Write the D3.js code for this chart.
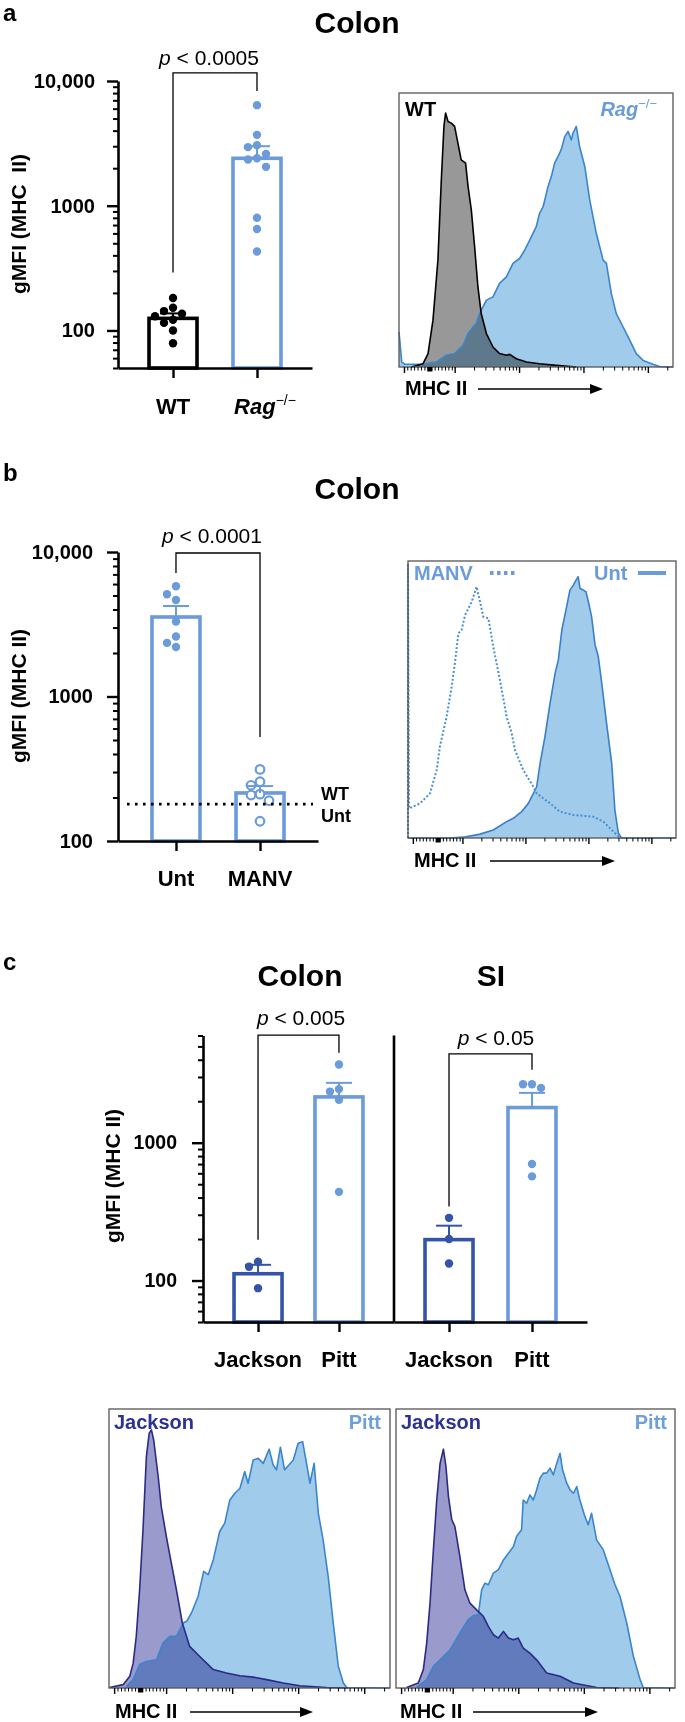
<!DOCTYPE html>
<html><head><meta charset="utf-8">
<script src="https://cdn.jsdelivr.net/npm/d3@7"></script>
<style>
body{margin:0;background:#fff}
svg{display:block}
text{font-family:"Liberation Sans",Arial,Helvetica,sans-serif}
</style>
</head><body><script>
// ---------------- DATA ----------------
const aGroups = ["WT", "Rag"];
const aMeans = [125, 2400];
const aSEM = [12, 600];
const aWT = [182, 152, 143, 136, 130, 122, 115, 100, 79];
const aRag = [6400, 3700, 3050, 2950, 2600, 2400, 2350, 2050, 800, 650, 430];
const aTicks = [100, 1000, 10000];
const aTickText = ["100", "1000", "10,000"];

const bGroups = ["Unt", "MANV"];
const bMeans = [3550, 215];
const bSEM = [680, 25];
const bUnt = [5800, 5100, 4650, 3300, 2600, 2350, 2200];
const bMANV = [313, 257, 243, 211, 208, 190, 137];
const bWTUnt = 180;
const bTicks = [100, 1000, 10000];
const bTickText = ["100", "1000", "10,000"];

const cGroups = ["Jackson", "Pitt"];
const cColonMeans = [112, 2150];
const cColonSEM = [18, 570];
const cColonJackson = [137, 126, 88];
const cColonPitt = [3700, 2450, 2350, 2050, 440];
const cSIMeans = [198, 1800];
const cSISEM = [52, 500];
const cSIJackson = [285, 200, 133];
const cSIPitt = [2660, 2660, 2500, 700, 570];
const cTicks = [100, 1000];
const cTickText = ["100", "1000"];

// histograms: [channel %, count % of max]
const histA_WT = [[4.5,0],[8.8,1.2],[10.6,4.9],[12.4,17.1],[14.2,39],[15.5,69.5],[16.4,87.8],[17.0,92.7],[17.9,89.6],[19.1,89],[20.3,87.8],[21.5,81.7],[22.7,75.6],[24.3,74.4],[25.2,65.9],[26.4,57.3],[27.6,43.9],[28.8,29.3],[30.0,19.5],[31.9,12.2],[34.3,7.3],[36.7,4.9],[39.2,4.3],[40.4,4.6],[42.8,3],[46.5,1.8],[51.3,1.2],[57.4,0.6],[64.7,0]];
const histA_Rag = [[0,12.8],[1.0,1.8],[2.1,1.0],[8.8,1.0],[13.6,1.8],[17.3,4.3],[20.3,4.9],[23.4,7.9],[25.2,12.2],[27.0,14.6],[28.2,15.9],[29.4,19.5],[31.9,24.4],[34.3,25.6],[36.7,30.5],[39.2,32.9],[41.6,37.8],[44.0,39.6],[45.9,42.7],[47.7,46.3],[48.9,48.8],[50.1,51.2],[51.3,56.1],[52.6,58.5],[54.4,65.9],[55.6,69.5],[56.8,74.4],[58.0,76.8],[59.2,79.3],[60.5,84.1],[61.7,86],[62.9,82.9],[63.5,85.4],[64.7,87.8],[65.9,80.5],[67.8,73.2],[69.6,61],[72.0,48.8],[74.5,39],[75.7,37.8],[77.5,26.8],[79.3,19.5],[81.8,14.6],[84.2,9.8],[86.6,4.9],[89.1,2.4],[92.7,1.0],[95.1,0.2],[100,0]];
const histB_MANV = [[0,0],[0,99],[0.4,10.7],[4.5,12.5],[8.2,16.1],[10.7,24.5],[11.9,33],[14.4,43.8],[16.3,54.6],[17.5,63.1],[18.8,73.9],[20.0,75.1],[21.3,80.5],[23.8,85.3],[25.6,90.7],[26.6,86.5],[28.1,79.9],[30.0,79.3],[31.8,69.1],[34.3,57],[36.8,43.8],[38.7,37.8],[39.9,31.8],[43.0,24.5],[46.8,18.5],[48.0,16.1],[53.0,12.5],[56.7,9.5],[61.7,8.3],[69.1,7.7],[72.9,5.9],[75.4,3.5],[79.1,0]];
const histB_Unt = [[0,0],[15.7,0],[20.6,0.3],[26.9,1.4],[31.8,2.9],[36.8,5.9],[39.3,7.1],[42.4,9.5],[44.9,12.5],[46.8,16.1],[48.0,18.5],[49.3,27],[51.1,36.6],[53.0,48.6],[54.9,59.5],[56.1,64.3],[57.4,75.1],[59.2,83.5],[60.4,89.5],[61.7,91.3],[62.7,93.1],[63.5,94.3],[64.2,90.1],[65.4,89.5],[66.4,88.9],[67.3,85.3],[68.5,79.9],[69.8,69.7],[71.0,65.5],[72.3,55.8],[74.1,41.4],[76.0,27],[77.2,10.1],[78.5,1.7],[79.7,0],[100,0]];
const histC_colonJackson = [[0.2,0.2],[5.0,1.2],[7.4,4.2],[8.6,8.9],[9.7,18.5],[10.9,35.2],[12.1,56.7],[13.3,82.9],[14.3,91.3],[15.1,92.5],[15.9,88.9],[17.5,75.8],[18.6,65],[20.4,54.3],[22.2,44.7],[24,35.2],[26.1,23.3],[28.7,14.9],[32.3,11.3],[37.1,6.6],[41.8,5.4],[46.6,4.4],[51.3,3.9],[56.1,3],[62,1.8],[67.9,0.8],[77.4,0.2],[85,0]];
const histC_colonPitt = [[6.2,0.6],[8.6,3],[10.9,8.4],[13.3,9.5],[16.9,10.1],[19.2,16.1],[21.6,18.5],[24,18.5],[26.4,23.3],[27.6,23.9],[29.3,26.8],[31.7,32.8],[33.7,41.8],[35.3,40.6],[37.1,45.9],[39.4,56.1],[41.2,59.1],[43.0,67.4],[44.8,69.8],[46.6,71.6],[48.3,77.6],[49.5,73.4],[51.3,81.7],[53.1,82.3],[54.9,80.5],[57.0,85.6],[58.4,80],[59.6,78.2],[61.0,86.3],[62.5,78.2],[65.6,81.7],[67.3,87.7],[68.9,88.3],[70.1,81.7],[71.5,73.4],[73.0,80.5],[74.5,62.6],[76.2,53.1],[78.0,40],[79.8,23.3],[81.6,7.8],[83.4,1.8],[84.6,0.2],[100,0]];
const histC_SIJackson = [[3.8,0.2],[8.0,1.8],[9.8,6.6],[11.0,16.1],[12.2,30.4],[13.4,49.5],[14.6,67.4],[15.8,80.5],[17.0,85.6],[17.9,79.4],[18.8,68.6],[20.0,60.3],[21.1,57.9],[22.9,47.1],[24.7,35.2],[26.5,30.4],[28.9,28],[31.3,25.7],[33.1,22.1],[34.9,19.1],[36.7,17.9],[38.5,20.3],[40.3,17.9],[42.1,17.3],[43.8,17.9],[45.6,14.3],[48,12.5],[50.4,10.1],[54,5.4],[58.8,4.2],[63.6,1.8],[71.9,0.2],[80,0]];
const histC_SIPitt = [[7.4,0.2],[11,3],[13.4,7.8],[15.8,10.1],[19.4,13.7],[22.9,19.7],[25.9,24.5],[27.7,25.9],[29.5,26.3],[30.7,35.2],[31.9,37.6],[33.1,37],[34.9,41.2],[36.7,42.4],[38.5,45.9],[40.3,48.3],[42.1,50.7],[43.2,54.3],[45,56.7],[45.6,67.4],[46.8,66.2],[48,69.2],[49.2,67.4],[50.4,71],[51.6,75.2],[52.8,77],[54,77],[55.2,78.8],[56.4,76.4],[57.6,80.5],[58.8,84.1],[59.7,78.2],[61.2,73.4],[62.4,71],[63.6,69.8],[64.8,72.2],[65.9,67.4],[67.7,61.5],[68.9,58.5],[70.1,62.6],[71.9,53.1],[74.3,49.5],[76.7,42.4],[78.5,37],[80.3,32.8],[82.7,23.3],[85.1,11.3],[87.5,3],[88.6,0.2],[100,0]];

// ---------------- STYLE ----------------
const BLUE = '#6b9bd8', JACK = '#3553a8', HBLUE = '#a0cbeb', HBLUE_S = '#3a86cc';
const svg = d3.select('body').append('svg').attr('width', 685).attr('height', 1722);
svg.append('rect').attr('width', 685).attr('height', 1722).attr('fill', '#fff');

function txt(x, y, s, o = {}) {
  return svg.append('text').attr('x', x).attr('y', y).text(s)
    .attr('font-size', o.fs || 20).attr('font-weight', o.fw || 'bold')
    .attr('font-style', o.it ? 'italic' : 'normal')
    .attr('fill', o.fill || '#000').attr('text-anchor', o.anchor || 'start');
}

function yAxis(x0, y, ticks, tickText, fs, pad) {
  const [lo, hi] = y.domain();
  const minors = [];
  for (let e = 0; e <= 4; e++) for (let k = 2; k <= 9; k++) {
    const v = k * Math.pow(10, e);
    if (v >= lo * 0.999 && v <= hi * 1.001) minors.push(v);
  }
  const gm = svg.append('g').attr('transform', `translate(${x0},0)`)
    .call(d3.axisLeft(y).tickValues(minors).tickSize(5).tickSizeOuter(0).tickFormat(''));
  gm.select('.domain').remove();
  gm.selectAll('line').attr('stroke', '#000').attr('stroke-width', 2);
  const g = svg.append('g').attr('transform', `translate(${x0},0)`)
    .call(d3.axisLeft(y).tickValues(ticks).tickSize(11).tickSizeOuter(0).tickPadding(pad)
      .tickFormat((d, i) => tickText[i]));
  g.attr('font-family', null).attr('font-size', null);
  g.select('.domain').attr('stroke', '#000').attr('stroke-width', 2.6);
  g.selectAll('line').attr('stroke', '#000').attr('stroke-width', 2.4);
  g.selectAll('text').attr('font-size', fs).attr('font-weight', 'bold').attr('fill', '#000');
}

function xAxis(x, yb) {
  const g = svg.append('g').attr('transform', `translate(0,${yb})`)
    .call(d3.axisBottom(x).tickSize(10).tickSizeOuter(0).tickFormat(''));
  g.select('.domain').attr('stroke', '#000').attr('stroke-width', 2.6);
  g.selectAll('line').attr('stroke', '#000').attr('stroke-width', 2.4);
}

function swarm(vals, y, cx, r) {
  const pts = vals.map(v => ({ v, y: y(v) })).sort((a, b) => a.y - b.y);
  const placed = [];
  const step = 2 * r + 0.6;
  pts.forEach(p => {
    for (let k = 0; k < 30; k++) {
      const off = k === 0 ? 0 : (k % 2 ? -1 : 1) * Math.ceil(k / 2) * step;
      const x = cx + off;
      if (placed.every(q => Math.hypot(q.x - x, q.y - p.y) >= 2 * r + 0.3)) { p.x = x; placed.push(p); break; }
    }
  });
  return placed;
}

function barGroup(x, y, groups, means, sems, points, colors, open) {
  const yb = y.range()[0];
  groups.forEach((gname, i) => {
    const cx = x(gname);
    svg.append('rect').attr('x', cx - 24).attr('width', 48)
      .attr('y', y(means[i])).attr('height', yb - y(means[i]))
      .attr('fill', '#fff').attr('stroke', colors[i]).attr('stroke-width', 3.6);
    const r = 4.2;
    swarm(points[i], y, cx, r).forEach(p => {
      svg.append('circle').attr('cx', p.x).attr('cy', p.y).attr('r', open[i] ? 4.3 : r)
        .attr('fill', open[i] ? '#fff' : colors[i])
        .attr('stroke', open[i] ? colors[i] : 'none').attr('stroke-width', open[i] ? 2.2 : 0);
    });
    const top = y(means[i] + sems[i]);
    svg.append('line').attr('x1', cx).attr('x2', cx).attr('y1', y(means[i])).attr('y2', top)
      .attr('stroke', colors[i]).attr('stroke-width', 2);
    svg.append('line').attr('x1', cx - 13).attr('x2', cx + 13).attr('y1', top).attr('y2', top)
      .attr('stroke', colors[i]).attr('stroke-width', 2);
  });
}

function bracket(xl, xr, y, vL, vTop, vR) {
  svg.append('path').attr('d', `M${xl},${y(vL)}V${y(vTop)}H${xr}V${y(vR)}`)
    .attr('fill', 'none').attr('stroke', '#000').attr('stroke-width', 1.3);
}

function pText(cx, yb, s) {
  const t = svg.append('text').attr('x', cx).attr('y', yb).attr('text-anchor', 'middle')
    .attr('font-size', 21).attr('fill', '#000');
  t.append('tspan').attr('font-style', 'italic').text('p');
  t.append('tspan').text(' < ' + s);
}

function yLabel(x, y, s) {
  svg.append('text').attr('transform', `translate(${x},${y}) rotate(-90)`).attr('text-anchor', 'middle')
    .attr('font-size', 21).attr('font-weight', 'bold').text(s);
}

function hist(box, series) {
  const x = d3.scaleLinear().domain([0, 100]).range([box.x0, box.x1]);
  const y = d3.scaleLinear().domain([0, 100]).range([box.y1, box.y0]);
  const area = d3.area().x(d => x(d[0])).y0(y(0)).y1(d => y(d[1]));
  const line = d3.line().x(d => x(d[0])).y(d => y(d[1]));
  series.forEach(s => {
    if (s.fill) svg.append('path').attr('d', area(s.data)).attr('fill', s.fill)
      .style('mix-blend-mode', 'multiply');
  });
  series.forEach(s => {
    svg.append('path').attr('d', line(s.data)).attr('fill', 'none').attr('stroke', s.stroke)
      .attr('stroke-width', s.sw || 1.6).attr('stroke-dasharray', s.dash || null)
      .attr('stroke-linejoin', 'round');
  });
  svg.append('rect').attr('x', box.x0).attr('y', box.y0).attr('width', box.x1 - box.x0)
    .attr('height', box.y1 - box.y0).attr('fill', 'none').attr('stroke', '#555').attr('stroke-width', 1.3);
  // flow-style axis ticks
  const majors = [2, 20.5, 44, 67.5, 91];
  const dec = 23.5;
  const tk = (v, len, w) => svg.append('line').attr('x1', x(v)).attr('x2', x(v))
    .attr('y1', box.y1).attr('y2', box.y1 + len).attr('stroke', '#000').attr('stroke-width', w || 1);
  majors.forEach(m => tk(m, 6, 1.4));
  majors.slice(1).forEach(m => {
    for (let k = 2; k <= 9; k++) { const v = m + Math.log10(k) * dec; if (v < 100) tk(v, 3.5, 1); }
  });
  for (let v = 3.2; v < 20; v += 1.25) tk(v, 3.5, 1);
  svg.append('rect').attr('x', x(10.3)).attr('y', box.y1).attr('width', x(12.2) - x(10.3)).attr('height', 4.5).attr('fill', '#000');
  return x;
}

function mhc(x, yb, a0, a1) {
  txt(x, yb, 'MHC II', { fs: 20 });
  svg.append('line').attr('x1', a0).attr('x2', a1 - 8).attr('y1', yb - 6).attr('y2', yb - 6)
    .attr('stroke', '#000').attr('stroke-width', 1.4);
  svg.append('path').attr('d', `M${a1},${yb - 6}l-13,-5l0,10z`).attr('fill', '#000');
}

// ---------------- PANEL A ----------------
txt(3, 21, 'a', { fs: 24 });
txt(357, 33, 'Colon', { fs: 30, anchor: 'middle' });
const yA = d3.scaleLog().domain([50, 10000]).range([368, 81]);
const xA = d3.scalePoint().domain(aGroups).range([118, 312]).padding(0.655);
barGroup(xA, yA, aGroups, aMeans, aSEM, [aWT, aRag], ['#000', BLUE], [false, false]);
yAxis(118, yA, aTicks, aTickText, 20, 12);
xAxis(xA, 368);
bracket(xA('WT'), xA('Rag'), yA, 292, 11600, 8300);
pText(209, 65, '0.0005');
yLabel(26, 224, 'gMFI (MHC\u00a0\u00a0II)');
txt(xA('WT'), 414, 'WT', { fs: 22, anchor: 'middle' });
{
  const t = svg.append('text').attr('x', xA('Rag') + 8).attr('y', 414).attr('text-anchor', 'middle')
    .attr('font-size', 22).attr('font-weight', 'bold');
  t.append('tspan').attr('font-style', 'italic').text('Rag');
  t.append('tspan').attr('font-size', 14).attr('dy', -9).attr('font-weight', 'normal').text('\u2212/\u2212');
}
hist({ x0: 399, y0: 93, x1: 673, y1: 367 }, [
  { data: histA_Rag, fill: HBLUE, stroke: HBLUE_S },
  { data: histA_WT, fill: '#989898', stroke: '#000' }
]);
txt(405, 116, 'WT', { fs: 20 });
{
  const t = svg.append('text').attr('x', 657).attr('y', 116).attr('text-anchor', 'end')
    .attr('font-size', 20).attr('font-weight', 'bold').attr('font-style', 'italic').attr('fill', BLUE);
  t.append('tspan').text('Rag');
  t.append('tspan').attr('font-size', 13).attr('dy', -8).attr('font-style', 'normal').attr('font-weight', 'normal').text('\u2212/\u2212');
}
mhc(405, 395, 478, 603);

// ---------------- PANEL B ----------------
txt(3, 481, 'b', { fs: 24 });
txt(357, 499, 'Colon', { fs: 30, anchor: 'middle' });
const yB = d3.scaleLog().domain([100, 10000]).range([841, 552]);
const xB = d3.scalePoint().domain(bGroups).range([118, 318]).padding(0.69);
barGroup(xB, yB, bGroups, bMeans, bSEM, [bUnt, bMANV], [BLUE, BLUE], [false, true]);
svg.append('line').attr('x1', 127).attr('x2', 313).attr('y1', yB(bWTUnt)).attr('y2', yB(bWTUnt))
  .attr('stroke', '#000').attr('stroke-width', 2.6).attr('stroke-dasharray', '2.6,5.4');
txt(321, 800, 'WT', { fs: 18 });
txt(321, 822, 'Unt', { fs: 18 });
yAxis(118, yB, bTicks, bTickText, 20, 14);
xAxis(xB, 841);
bracket(xB('Unt'), xB('MANV'), yB, 7160, 9840, 525);
pText(212, 543, '0.0001');
yLabel(26, 696, 'gMFI (MHC II)');
txt(xB('Unt'), 886, 'Unt', { fs: 22, anchor: 'middle' });
txt(xB('MANV'), 886, 'MANV', { fs: 22, anchor: 'middle' });
hist({ x0: 408, y0: 561, x1: 676, y1: 838 }, [
  { data: histB_Unt, fill: HBLUE, stroke: '#3a7fc8' },
  { data: histB_MANV, fill: null, stroke: '#4a8ed2', dash: '2,2', sw: 2 }
]);
txt(414, 580, 'MANV', { fs: 20, fill: BLUE });
svg.append('line').attr('x1', 490).attr('x2', 518).attr('y1', 573).attr('y2', 573)
  .attr('stroke', BLUE).attr('stroke-width', 4).attr('stroke-dasharray', '3.5,3.5');
txt(594, 580, 'Unt', { fs: 20, fill: BLUE });
svg.append('line').attr('x1', 638).attr('x2', 666).attr('y1', 573).attr('y2', 573)
  .attr('stroke', BLUE).attr('stroke-width', 4);
mhc(414, 867, 490, 615);

// ---------------- PANEL C ----------------
txt(3, 970, 'c', { fs: 24 });
txt(300, 986, 'Colon', { fs: 30, anchor: 'middle' });
txt(491, 986, 'SI', { fs: 30, anchor: 'middle' });
const yC = d3.scaleLog().domain([50, 6000]).range([1322, 1035.5]);
const xC1 = d3.scalePoint().domain(cGroups).range([203, 394]).padding(0.68);
const xC2 = d3.scalePoint().domain(cGroups).range([394, 587]).padding(0.663);
barGroup(xC1, yC, cGroups, cColonMeans, cColonSEM, [cColonJackson, cColonPitt], [JACK, BLUE], [false, false]);
barGroup(xC2, yC, cGroups, cSIMeans, cSISEM, [cSIJackson, cSIPitt], [JACK, BLUE], [false, false]);
yAxis(203, yC, cTicks, cTickText, 19.5, 15);
svg.append('line').attr('x1', 394).attr('x2', 394).attr('y1', yC(6000)).attr('y2', yC(50))
  .attr('stroke', '#000').attr('stroke-width', 2.6);
xAxis(xC1, 1322);
xAxis(xC2, 1322);
bracket(xC1('Jackson'), xC1('Pitt'), yC, 198, 6030, 4490);
bracket(xC2('Jackson'), xC2('Pitt'), yC, 344, 4415, 3380);
pText(301, 1025, '0.005');
pText(496, 1045, '0.05');
yLabel(120, 1176, 'gMFI (MHC II)');
[[xC1, 'Jackson'], [xC1, 'Pitt'], [xC2, 'Jackson'], [xC2, 'Pitt']].forEach(([x, g]) =>
  txt(x(g), 1367, g, { fs: 22, anchor: 'middle' }));

hist({ x0: 109, y0: 1409, x1: 390, y1: 1688 }, [
  { data: histC_colonPitt, fill: HBLUE, stroke: HBLUE_S },
  { data: histC_colonJackson, fill: '#9a9acd', stroke: '#2b2b85' }
]);
hist({ x0: 396, y0: 1409, x1: 675, y1: 1688 }, [
  { data: histC_SIPitt, fill: HBLUE, stroke: HBLUE_S },
  { data: histC_SIJackson, fill: '#9a9acd', stroke: '#2b2b85' }
]);
txt(114, 1429, 'Jackson', { fs: 20, fill: '#2e3192' });
txt(381, 1429, 'Pitt', { fs: 20, fill: '#6fa0dc', anchor: 'end' });
txt(401, 1429, 'Jackson', { fs: 20, fill: '#2e3192' });
txt(667, 1429, 'Pitt', { fs: 20, fill: '#6fa0dc', anchor: 'end' });
mhc(115, 1718, 190, 313);
mhc(400, 1718, 473, 598);
</script></body></html>
